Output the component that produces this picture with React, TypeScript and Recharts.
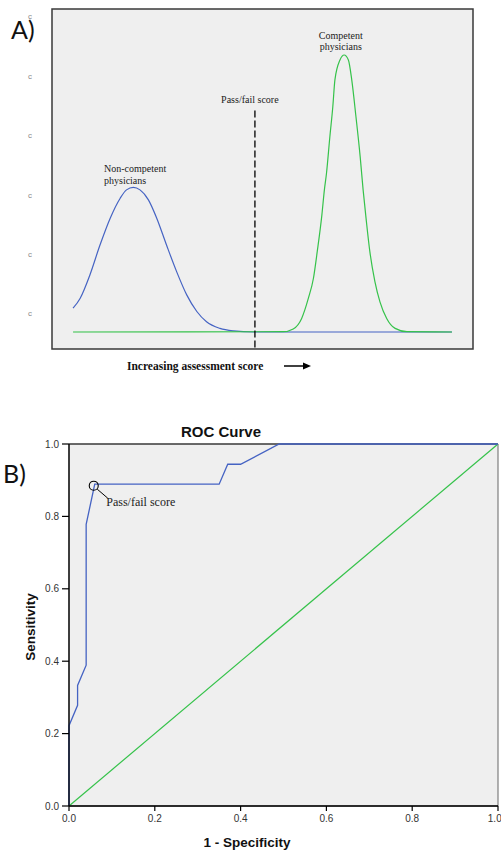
import {
  Line,
  LineChart,
  ReferenceArea,
  ReferenceDot,
  ReferenceLine,
  XAxis,
  YAxis,
} from 'recharts';

// Panel A: score distributions (arbitrary units)
const blueScore = [5.0, 6.7, 9.0, 11.4, 13.8, 16.2, 17.7, 19.3, 20.9, 22.9, 24.9, 27.2, 29.6, 32.0, 34.4, 36.7, 39.9, 43.1, 47.8, 95];
const blueDensity = [0.086, 0.122, 0.206, 0.314, 0.41, 0.483, 0.513, 0.522, 0.513, 0.477, 0.41, 0.314, 0.218, 0.134, 0.074, 0.037, 0.013, 0.004, 0, 0];
const greenScore = [5, 54.9, 57.3, 59.3, 60.9, 62.1, 63.0, 64.1, 64.7, 65.2, 66.0, 66.7, 67.2, 68.4, 69.4, 70.4, 71.2, 72.2, 73.2, 73.9, 74.6, 75.5, 76.7, 77.9, 79.5, 81.5, 84.3, 95];
const greenDensity = [0, 0.001, 0.011, 0.049, 0.122, 0.194, 0.29, 0.422, 0.513, 0.573, 0.705, 0.813, 0.91, 0.982, 1.0, 0.982, 0.91, 0.777, 0.633, 0.513, 0.41, 0.29, 0.182, 0.109, 0.049, 0.013, 0.001, 0];
const ticksA = [0.069, 0.282, 0.494, 0.711, 0.924, 1.141];
const cutScore = 48.2;
const cutTop = 0.8;

// Panel B: ROC curve
const rocFpr = [0, 0, 0.02, 0.02, 0.04, 0.04, 0.06, 0.35, 0.37, 0.4, 0.49, 1];
const rocTpr = [0, 0.222, 0.278, 0.333, 0.389, 0.778, 0.889, 0.889, 0.944, 0.944, 1, 1];
const chanceFpr = [0, 1];
const chanceTpr = [0, 1];
const rocTicks = [0, 0.2, 0.4, 0.6, 0.8, 1];
const passFail = { fpr: 0.06, tpr: 0.889 };

const zip = (xs: number[], ys: number[]) => xs.map((x, i) => ({ x, y: ys[i] }));

const SERIF = '"Liberation Serif", "Times New Roman", serif';
const SANS = '"Liberation Sans", Arial, sans-serif';
const BLUE = '#4563c3';
const GREEN = '#35c24a';
const Y_MIN_A = -0.0614;
const Y_MAX_A = 1.166;

function noteShape(lines: string[], anchor: 'start' | 'middle', size: number, gap: number) {
  return (props: any) => (
    <g>
      {lines.map((t, i) => (
        <text
          key={t}
          x={props.cx}
          y={props.cy + i * gap}
          textAnchor={anchor}
          dominantBaseline="central"
          fontFamily={SERIF}
          fontSize={size}
          fill="#222"
        >
          {t}
        </text>
      ))}
    </g>
  );
}

const scoreAxisTitle = (props: any) => {
  const { x, y } = props.viewBox;
  const ty = y + 17;
  return (
    <g>
      <text x={x + 75} y={ty} dominantBaseline="central" fontFamily={SERIF} fontSize={11.5} fontWeight="bold" fill="#111">
        Increasing assessment score
      </text>
      <line x1={x + 232} y1={ty} x2={x + 253} y2={ty} stroke="#000" strokeWidth={1.5} />
      <path d={`M${x + 251},${ty - 3.5} L${x + 259},${ty} L${x + 251},${ty + 3.5} Z`} fill="#000" />
    </g>
  );
};

const passFailShape = (props: any) => {
  const { cx, cy } = props;
  return (
    <g>
      <circle cx={cx - 1} cy={cy + 1.5} r={4.5} fill="none" stroke="#000" strokeWidth={1.1} />
      <line x1={cx + 2.5} y1={cy + 5} x2={cx + 13} y2={cy + 14} stroke="#000" strokeWidth={1} />
      <text x={cx + 11.5} y={cy + 18} dominantBaseline="central" fontFamily={SERIF} fontSize={12} fill="#222">
        Pass/fail score
      </text>
    </g>
  );
};

const sensitivityTitle = (props: any) => {
  const { x, y, height } = props.viewBox;
  const cx = x + 30;
  const cy = y + height / 2 + 2;
  return (
    <text
      x={cx}
      y={cy}
      transform={`rotate(-90, ${cx}, ${cy})`}
      textAnchor="middle"
      dominantBaseline="central"
      fontFamily={SANS}
      fontSize={13.5}
      fontWeight="bold"
      fill="#111"
    >
      Sensitivity
    </text>
  );
};

const specificityTitle = (props: any) => {
  const { x, y } = props.viewBox;
  return (
    <text
      x={x + 178}
      y={y + 36}
      textAnchor="middle"
      dominantBaseline="central"
      fontFamily={SANS}
      fontSize={13.5}
      fontWeight="bold"
      fill="#111"
    >
      1 - Specificity
    </text>
  );
};

function PanelA() {
  return (
    <LineChart width={501} height={380} margin={{ top: 9, right: 28, left: 30, bottom: 0 }}>
      <XAxis
        type="number"
        dataKey="x"
        domain={[0, 100]}
        allowDataOverflow
        height={31}
        tick={false}
        tickLine={false}
        axisLine={false}
        label={{ content: scoreAxisTitle }}
      />
      <YAxis
        type="number"
        domain={[Y_MIN_A, Y_MAX_A]}
        allowDataOverflow
        width={22}
        ticks={ticksA}
        tickFormatter={() => 'c'}
        tick={{ fontSize: 8, fill: '#8a8a8a', fontFamily: SANS }}
        tickLine={false}
        axisLine={false}
        tickMargin={14}
      />
      <ReferenceArea
        x1={0}
        x2={100}
        y1={Y_MIN_A}
        y2={Y_MAX_A}
        fill="#efefef"
        fillOpacity={1}
        stroke="#3a3a3a"
        strokeWidth={1.5}
        ifOverflow="visible"
      />
      <Line
        data={zip(blueScore, blueDensity)}
        dataKey="y"
        type="monotone"
        stroke={BLUE}
        strokeWidth={1.2}
        dot={false}
        isAnimationActive={false}
      />
      <Line
        data={zip(greenScore, greenDensity)}
        dataKey="y"
        type="monotone"
        stroke={GREEN}
        strokeWidth={1.2}
        dot={false}
        isAnimationActive={false}
      />
      <ReferenceLine
        segment={[
          { x: cutScore, y: cutTop },
          { x: cutScore, y: Y_MIN_A },
        ]}
        stroke="#000"
        strokeWidth={1.3}
        strokeDasharray="7 3"
        ifOverflow="visible"
      />
      <ReferenceDot x={12.35} y={0.592} ifOverflow="visible" shape={noteShape(['Non-competent', 'physicians'], 'start', 10, 12)} />
      <ReferenceDot x={68.6} y={1.072} ifOverflow="visible" shape={noteShape(['Competent', 'physicians'], 'middle', 10, 11)} />
      <ReferenceDot x={47.0} y={0.841} ifOverflow="visible" shape={noteShape(['Pass/fail score'], 'middle', 10, 0)} />
    </LineChart>
  );
}

function PanelB() {
  return (
    <LineChart width={501} height={470} margin={{ top: 64, right: 3, left: 0, bottom: 0 }}>
      <ReferenceArea
        x1={0}
        x2={1}
        y1={0}
        y2={1}
        fill="#efefef"
        fillOpacity={1}
        stroke="#666"
        strokeWidth={1}
        ifOverflow="visible"
      />
      <XAxis
        type="number"
        dataKey="x"
        domain={[0, 1]}
        ticks={rocTicks}
        tickFormatter={(v: number) => v.toFixed(1)}
        height={44}
        tickSize={5}
        tickMargin={4}
        tick={{ fontSize: 10, fill: '#333', fontFamily: SANS }}
        stroke="#000"
        axisLine={{ stroke: '#000', strokeWidth: 1.3 }}
        tickLine={{ stroke: '#000', strokeWidth: 1.2 }}
        label={{ content: specificityTitle }}
      />
      <YAxis
        type="number"
        domain={[0, 1]}
        ticks={rocTicks}
        tickFormatter={(v: number) => v.toFixed(1)}
        width={69}
        tickSize={7}
        tickMargin={3}
        tick={{ fontSize: 10, fill: '#333', fontFamily: SANS }}
        axisLine={{ stroke: '#000', strokeWidth: 1.3 }}
        tickLine={{ stroke: '#000', strokeWidth: 1.2 }}
        label={{ content: sensitivityTitle }}
      />
      <ReferenceLine y={1} stroke="#222" strokeWidth={1.2} />
      <Line
        data={zip(chanceFpr, chanceTpr)}
        dataKey="y"
        type="linear"
        stroke={GREEN}
        strokeWidth={1.2}
        dot={false}
        isAnimationActive={false}
      />
      <Line
        data={zip(rocFpr, rocTpr)}
        dataKey="y"
        type="linear"
        stroke={BLUE}
        strokeWidth={1.3}
        dot={false}
        isAnimationActive={false}
      />
      <ReferenceDot x={passFail.fpr} y={passFail.tpr} ifOverflow="visible" shape={passFailShape} />
    </LineChart>
  );
}

export default function App() {
  return (
    <div style={{ position: 'absolute', left: 0, top: 0, width: 501, height: 850, background: '#fff', overflow: 'hidden' }}>
      <div style={{ position: 'absolute', left: 0, top: 0 }}>
        <PanelA />
      </div>
      <div style={{ position: 'absolute', left: 0, top: 380 }}>
        <PanelB />
      </div>
      <div style={{ position: 'absolute', left: 11, top: 14, fontFamily: 'Lato, sans-serif', fontSize: 25, lineHeight: '30px', color: '#111' }}>
        A)
      </div>
      <div style={{ position: 'absolute', left: 3, top: 458, fontFamily: 'Lato, sans-serif', fontSize: 25, lineHeight: '30px', color: '#111' }}>
        B)
      </div>
      <div
        style={{
          position: 'absolute',
          left: 121,
          width: 200,
          top: 422,
          textAlign: 'center',
          fontFamily: SANS,
          fontSize: 15,
          fontWeight: 'bold',
          lineHeight: '20px',
          color: '#111',
        }}
      >
        ROC Curve
      </div>
    </div>
  );
}
